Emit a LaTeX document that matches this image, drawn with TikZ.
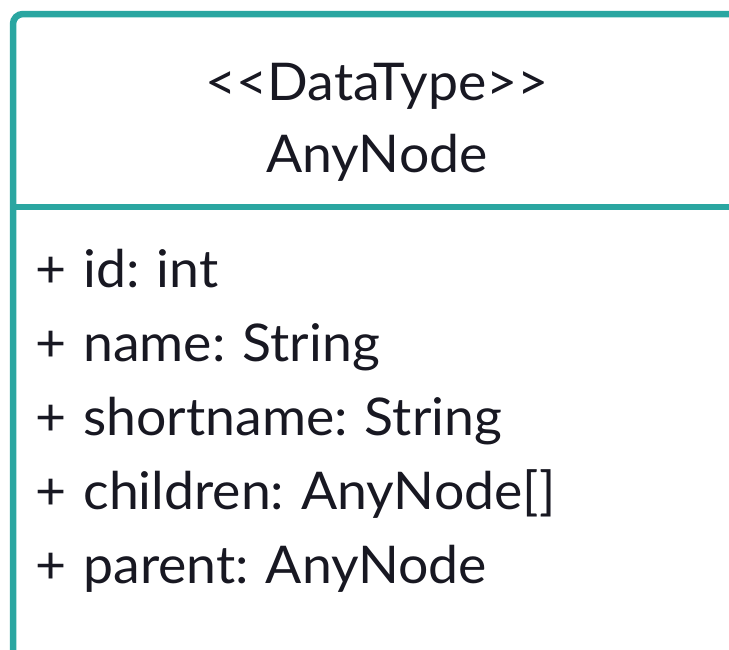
\documentclass[tikz,border=0pt]{standalone}
\usepackage{fontspec}
\setmainfont{Lato}[WordSpace=1.25,FakeStretch=1.03]
\usepackage{tikz}
\usepackage{xcolor}
\definecolor{umlteal}{RGB}{42,166,161}
\definecolor{umlink}{RGB}{24,24,34}
\usetikzlibrary{positioning}

\begin{document}
\frenchspacing
\begin{tikzpicture}[x=1pt,y=-1pt,
		umltext/.style={text=umlink,font=\fontsize{52}{60}\selectfont,inner sep=0pt},
		attr/.style={umltext,anchor=base west},
		umlline/.style={draw=umlteal,line width=6.5pt}]
				\useasboundingbox (0,0) rectangle (729,649);
				\clip (0,0) rectangle (729,649);
				% class box (runs past the right and bottom edge)
				\draw[umlline,rounded corners=10pt] (13,680) -- (13,14) -- (760,14) -- (760,680);
				\coordinate []  (divleft) at (13,207)  ;
				\coordinate []  (divright) at (760,207) ;
				\path[umlline] (divleft) edge (divright);
				% header
				\node[umltext,anchor=base] (stereo) at (377,100) {<{}<DataType>{}>};
				\node[umltext,anchor=base] (classname) at (377,172) {AnyNode};
				% attributes
				\node[attr] (aid) at (35,287) {+ id: int};
				\node[attr] (aname) at (35,361) {+ name: String};
				\node[attr] (ashort) at (35,435) {+ shortname: String};
				\node[attr] (achildren) at (35,509) {+ children: AnyNode[]};
				\node[attr] (aparent) at (35,583) {+ parent: AnyNode};
			\end{tikzpicture}
\end{document}
